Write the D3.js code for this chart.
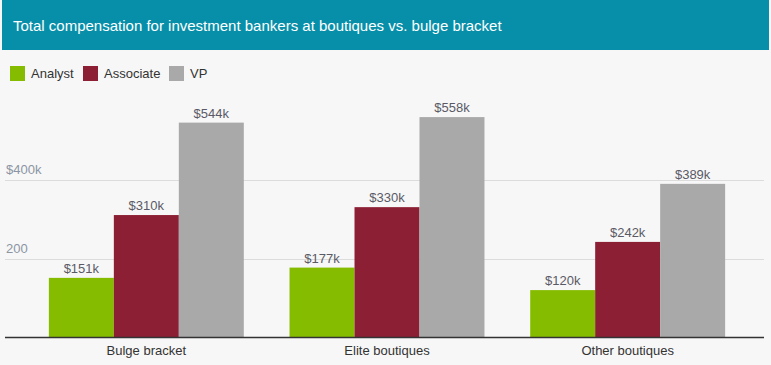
<!DOCTYPE html>
<html>
<head>
<meta charset="utf-8">
<script src="https://cdn.jsdelivr.net/npm/d3@7"></script>
<style>
	body { margin: 0; background: #f7f7f7; }
	svg { display: block; font-family: "Liberation Sans", Arial, sans-serif; }
</style>
</head>
<body>
<div id="chart"></div>
<script>
// ---------- DATA ----------
const categories = ["Bulge bracket", "Elite boutiques", "Other boutiques"];
const seriesNames = ["Analyst", "Associate", "VP"];
const analyst = [151, 177, 120];
const associate = [310, 330, 242];
const vp = [544, 558, 389];
const yTicks = [200, 400];
const yTickLabels = ["200", "$400k"];

const colors = ["#86bc00", "#8c1f34", "#a9a9a9"];

const width = 771;
const height = 365;

const svg = d3
	.select("#chart")
	.append("svg")
	.attr("width", width)
	.attr("height", height);

svg.append("rect")
	.attr("width", width)
	.attr("height", height)
	.attr("fill", "#f7f7f7");

// header
svg.append("rect")
	.attr("x", 2)
	.attr("y", 0)
	.attr("width", 767)
	.attr("height", 50)
	.attr("fill", "#078fa9");

svg.append("text")
	.attr("x", 13)
	.attr("y", 31)
	.attr("fill", "#fff")
	.attr("font-size", 15)
	.text("Total compensation for investment bankers at boutiques vs. bulge bracket");

// legend
const legendX = [10, 83, 169];
const legend = svg.selectAll(".legend")
	.data(seriesNames)
	.enter()
	.append("g")
	.attr("transform", (d, i) => `translate(${legendX[i]},66)`);

legend.append("rect")
	.attr("width", 15)
	.attr("height", 15)
	.attr("fill", (d, i) => colors[i]);

legend.append("text")
	.attr("x", 21)
	.attr("y", 12)
	.attr("font-size", 13)
	.attr("fill", "#333")
	.text((d) => d);

// scales
const y = d3.scaleLinear().domain([0, 400]).range([337.5, 179.5]);

const x0 = d3.scaleBand()
	.domain(categories)
	.range([26, 748])
	.paddingInner(0.19)
	.paddingOuter(0.095);

const x1 = d3.scaleBand()
	.domain(seriesNames)
	.range([0, x0.bandwidth()]);

// gridlines
svg.selectAll(".grid")
	.data(yTicks)
	.enter()
	.append("line")
	.attr("x1", 5)
	.attr("x2", 764)
	.attr("y1", (d) => Math.round(y(d)) + 0.5)
	.attr("y2", (d) => Math.round(y(d)) + 0.5)
	.attr("stroke", "#dcdcdc")
	.attr("stroke-width", 1);

svg.selectAll(".ylabel")
	.data(yTicks)
	.enter()
	.append("text")
	.attr("x", 6)
	.attr("y", (d) => y(d) - 6)
	.attr("font-size", 13)
	.attr("fill", "#8b95a3")
	.text((d, i) => yTickLabels[i]);

// bars
const table = categories.map((c, i) => ({
	category: c,
	values: [analyst[i], associate[i], vp[i]],
}));

const groups = svg.selectAll(".group")
	.data(table)
	.enter()
	.append("g")
	.attr("transform", (d) => `translate(${x0(d.category)},0)`);

groups.selectAll("rect")
	.data((d) => d.values.map((v, i) => ({ key: seriesNames[i], value: v, i: i })))
	.enter()
	.append("rect")
	.attr("x", (d) => x1(d.key))
	.attr("y", (d) => y(d.value))
	.attr("width", x1.bandwidth())
	.attr("height", (d) => y(0) - y(d.value))
	.attr("fill", (d) => colors[d.i]);

groups.selectAll("text")
	.data((d) => d.values.map((v, i) => ({ key: seriesNames[i], value: v })))
	.enter()
	.append("text")
	.attr("x", (d) => x1(d.key) + x1.bandwidth() / 2)
	.attr("y", (d) => y(d.value) - 5)
	.attr("text-anchor", "middle")
	.attr("font-size", 13)
	.attr("fill", "#5a5a66")
	.text((d) => `$${d.value}k`);

// baseline
svg.append("line")
	.attr("x1", 5)
	.attr("x2", 764)
	.attr("y1", 337.5)
	.attr("y2", 337.5)
	.attr("stroke", "#333")
	.attr("stroke-width", 1.5);

// category labels
svg.selectAll(".xlabel")
	.data(categories)
	.enter()
	.append("text")
	.attr("x", (d) => x0(d) + x0.bandwidth() / 2)
	.attr("y", 355)
	.attr("text-anchor", "middle")
	.attr("font-size", 13)
	.attr("fill", "#333")
	.text((d) => d);
</script>
</body>
</html>
